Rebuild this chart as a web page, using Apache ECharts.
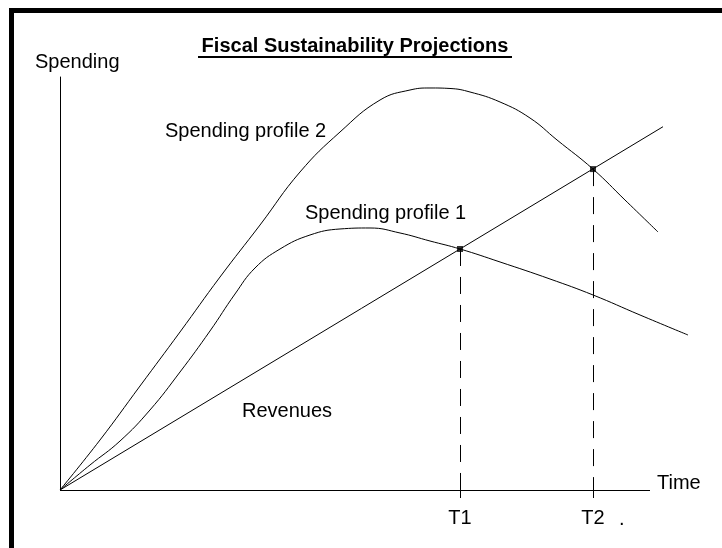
<!DOCTYPE html>
<html lang="en">
<head>
<meta charset="UTF-8">
<title>Fiscal Sustainability Projections</title>
<script src="https://cdn.jsdelivr.net/npm/echarts@6/dist/echarts.min.js"></script>
<style>html,body{margin:0;padding:0;background:#fff;}</style>
</head>
<body>
<div id="main" style="width:722px;height:548px;"></div>
<script>
// time runs 0..100 along the drawn axis, spending 0..100 up the axis
var timeEnd = 100;
var revenues = [[0, 0], [102.2, 87.96]];
var profile1 = [[0, 0], [5.08, 6.05], [10.17, 11.86], [15.25, 19.37], [20.34, 28.57], [25.42, 38.5],
    [29.66, 47.46], [33.05, 53.75], [37.29, 58.35], [42.37, 61.74], [47.46, 63.2], [52.54, 63.44],
    [57.63, 62.23], [62.71, 60.29], [67.8, 58.36], [74.58, 55.21], [83.05, 51.09], [90.34, 47.22],
    [98.31, 42.37], [106.44, 37.53]];
var profile2 = [[0, 0], [6.78, 12.11], [13.56, 25.18], [20.34, 38.26], [27.12, 51.57], [33.9, 64.16],
    [40.68, 77.0], [47.46, 86.68], [54.24, 94.43], [59.32, 96.85], [62.71, 97.34], [66.1, 97.22],
    [69.49, 96.37], [74.58, 93.95], [79.66, 90.07], [84.24, 84.75], [90.34, 77.7], [95.76, 70.22],
    [101.36, 62.47]];
var crossings = [[67.8, 58.36], [90.34, 77.7]];
var crossingNames = ['T1', 'T2'];

var font = '"Liberation Sans", Arial, sans-serif';
var myChart = echarts.init(document.getElementById('main'));

function label(text, x, y, bold) {
    return {
        type: 'text', x: x, y: y, silent: true,
        style: { text: text, fill: '#000', font: (bold ? 'bold ' : '') + '20px ' + font, verticalAlign: 'middle' }
    };
}

// dashed drop lines from each crossing to the time axis, plus the time axis itself
var marks = crossings.map(function (c) {
    return [{ coord: [c[0], c[1]] }, { coord: [c[0], 0] }];
});
marks.push([{ coord: [0, 0], lineStyle: { type: 'solid' } }, { coord: [timeEnd, 0] }]);

var option = {
    animation: false,
    backgroundColor: '#fff',
    // the grid runs on past the end of the time axis so the curves can overhang it
    grid: { left: 60, top: 77, width: 630, height: 413 },
    xAxis: {
        type: 'value', min: 0, max: 630 / 5.9,
        axisLine: { show: false },
        axisTick: { show: true, customValues: crossings.map(function (c) { return c[0]; }), length: 8, lineStyle: { color: '#000' } },
        axisLabel: {
            show: true,
            customValues: crossings.map(function (c) { return c[0]; }),
            formatter: function (v) {
                for (var i = 0; i < crossings.length; i++) { if (crossings[i][0] === v) return crossingNames[i]; }
                return '';
            },
            color: '#000', fontSize: 20, fontFamily: font, margin: 18
        },
        splitLine: { show: false }
    },
    yAxis: {
        type: 'value', min: 0, max: 100,
        axisLine: { show: true, lineStyle: { color: '#000', width: 1 } },
        axisTick: { show: false },
        axisLabel: { show: false },
        splitLine: { show: false }
    },
    series: [
        { name: 'Revenues', type: 'line', data: revenues, showSymbol: false,
          lineStyle: { color: '#000', width: 1 } },
        { name: 'Spending profile 1', type: 'line', data: profile1, smooth: 0.45, showSymbol: false,
          lineStyle: { color: '#000', width: 1 } },
        { name: 'Spending profile 2', type: 'line', data: profile2, smooth: 0.45, showSymbol: false,
          lineStyle: { color: '#000', width: 1 } },
        { name: 'Crossings', type: 'scatter', data: crossings, symbol: 'rect', symbolSize: 6, z: 5,
          itemStyle: { color: '#000' },
          markLine: {
              silent: true, symbol: ['none', 'none'], label: { show: false },
              lineStyle: { color: '#000', width: 1, type: [17, 11] },
              data: marks
          } }
    ],
    graphic: [
        { type: 'rect', shape: { x: 9, y: 8, width: 713, height: 5 }, style: { fill: '#000' }, silent: true },
        { type: 'rect', shape: { x: 9, y: 8, width: 5, height: 540 }, style: { fill: '#000' }, silent: true },
        { type: 'text', x: 355, y: 46, silent: true,
          style: { text: 'Fiscal Sustainability Projections', fill: '#000', font: 'bold 20px ' + font, align: 'center', verticalAlign: 'middle' } },
        { type: 'line', shape: { x1: 198, y1: 57, x2: 512, y2: 57 }, style: { stroke: '#000', lineWidth: 2 }, silent: true },
        label('Spending', 35, 62),
        label('Spending profile 2', 165, 131),
        label('Spending profile 1', 305, 213),
        label('Revenues', 242, 411),
        label('Time', 657, 483),
        label('.', 619, 519)
    ]
};

myChart.setOption(option);
</script>
</body>
</html>
